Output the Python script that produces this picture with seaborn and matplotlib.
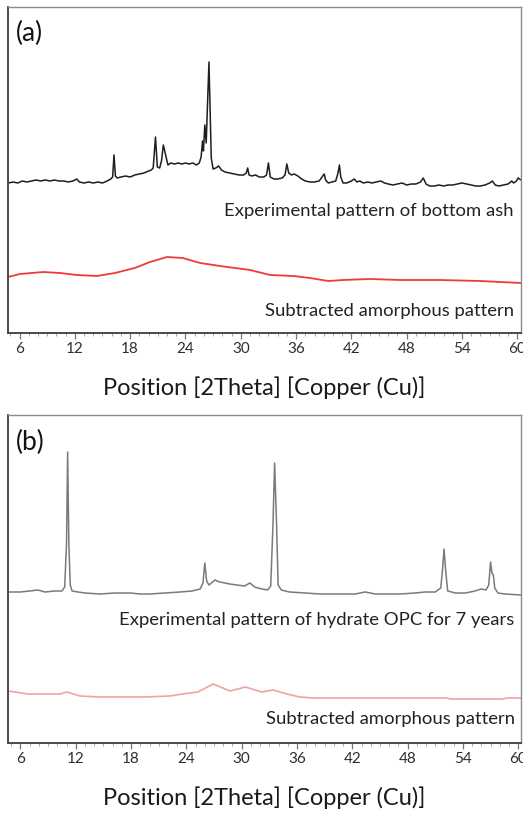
import matplotlib
matplotlib.use("Agg")
import matplotlib.pyplot as plt
from matplotlib.ticker import MultipleLocator
import pandas as pd
import seaborn as sns

# ---- (a) bottom ash: experimental trace (2theta in degrees, intensity a.u.)
ash_theta = [4.8, 5.3, 5.8, 6.3, 6.8, 7.3, 7.8, 8.3, 8.8, 9.3, 9.8, 10.3, 10.8, 11.3,
             11.8, 12.2, 12.5, 13.0, 13.5, 14.0, 14.5, 15.0, 15.5, 15.9, 16.1, 16.25,
             16.4, 16.6, 17.0, 17.5, 18.0, 18.5, 19.0, 19.5, 20.0, 20.3, 20.5, 20.75,
             20.95, 21.2, 21.4, 21.6, 21.85, 22.1, 22.4, 22.8, 23.2, 23.6, 24.0, 24.4,
             24.8, 25.2, 25.5, 25.7, 25.85, 25.95, 26.1, 26.25, 26.55, 26.8, 27.0, 27.3,
             27.6, 27.9, 28.3, 28.8, 29.3, 29.8, 30.3, 30.6, 30.75, 30.9, 31.2, 31.6,
             32.0, 32.5, 32.8, 33.0, 33.2, 33.6, 34.0, 34.5, 34.8, 35.0, 35.2, 35.5,
             35.8, 36.2, 36.6, 37.0, 37.5, 38.0, 38.5, 38.9, 39.05, 39.2, 39.5, 39.9,
             40.3, 40.55, 40.7, 40.85, 41.1, 41.5, 42.0, 42.3, 42.6, 42.9, 43.3, 43.8,
             44.2, 44.7, 45.2, 45.6, 46.0, 46.5, 47.0, 47.5, 48.0, 48.5, 49.0, 49.5,
             49.8, 50.1, 50.5, 51.0, 51.5, 52.0, 52.5, 53.0, 53.5, 54.0, 54.5, 55.0,
             55.5, 56.0, 56.5, 57.0, 57.3, 57.6, 58.0, 58.5, 59.0, 59.4, 59.6, 59.9,
             60.1, 60.4]
ash_counts = [150, 151, 150, 152, 151, 152, 153, 152, 153, 152, 153, 152, 152, 151,
              152, 154, 151, 150, 151, 150, 151, 150, 152, 154, 156, 178,
              157, 155, 156, 157, 156, 158, 159, 160, 162, 163, 165, 196,
              166, 165, 172, 188, 178, 168, 170, 169, 170, 169, 170, 169,
              170, 168, 170, 176, 192, 182, 208, 190, 271, 175, 164, 165,
              167, 163, 161, 160, 159, 158, 158, 160, 165, 158, 157, 158,
              156, 156, 158, 170, 156, 154, 154, 155, 158, 169, 160, 158,
              159, 157, 154, 152, 151, 151, 152, 157, 159, 153, 150, 151,
              152, 160, 168, 156, 150, 150, 152, 154, 151, 152, 150, 151,
              150, 151, 152, 150, 149, 148, 149, 150, 148, 149, 149, 151,
              155, 149, 147, 147, 148, 147, 148, 148, 149, 150, 149, 148,
              147, 147, 148, 150, 152, 148, 147, 148, 149, 152, 150, 152,
              155, 153]

# ---- (a) bottom ash: subtracted amorphous hump
ash_amorph_theta = [4.75, 6.05, 8.55, 10.4, 12.2, 14.4, 16.35, 18.5, 20.15, 22.0, 23.7,
                    25.6, 27.75, 31.0, 33.2, 35.7, 37.5, 39.5, 41.1, 44.0, 47.3, 51.6,
                    56.0, 60.4]
ash_amorph_counts = [56, 59, 61, 60, 58, 57, 60, 65, 71, 76, 75,
                     70, 67, 63, 58, 57, 55, 52, 53, 54, 53, 53,
                     52, 50]

# ---- (b) hydrated OPC (7 years): experimental trace
opc_theta = [4.65, 6.0, 7.0, 7.9, 8.65, 9.7, 10.5, 10.8, 11.0, 11.12, 11.25, 11.4,
             11.6, 12.25, 13.0, 14.6, 16.25, 17.9, 19.0, 20.0, 21.7, 23.3, 24.6,
             25.5, 25.8, 26.0, 26.2, 26.45, 27.1, 27.6, 28.2, 28.7, 29.5, 30.3,
             30.9, 31.4, 32.2, 32.8, 33.15, 33.4, 33.57, 33.78, 33.95, 34.3, 35.2,
             36.9, 38.5, 40.7, 42.3, 43.4, 44.5, 47.2, 48.8, 49.9, 51.0, 51.6,
             51.8, 51.95, 52.15, 52.35, 53.2, 54.3, 55.3, 56.0, 56.5, 56.8, 57.0,
             57.15, 57.3, 57.45, 57.8, 58.55, 60.3]
opc_counts = [151, 151, 152, 153, 151, 152, 152, 156, 200, 291, 200, 158,
              152, 151, 150, 149, 150, 150, 149, 149, 150, 151, 152,
              154, 160, 180, 162, 158, 163, 161, 160, 159, 158, 157,
              160, 156, 154, 153, 157, 220, 280, 220, 158, 153, 151,
              150, 149, 149, 149, 151, 149, 149, 150, 151, 151, 155,
              175, 194, 170, 152, 150, 150, 152, 154, 153, 158, 181,
              170, 168, 155, 150, 149, 148]

# ---- (b) hydrated OPC (7 years): subtracted amorphous pattern
opc_amorph_theta = [4.65, 5.4, 6.8, 10.3, 11.05, 12.45, 14.6, 19.5, 22.2, 23.6, 25.25,
                    26.9, 28.75, 30.4, 32.2, 33.4, 34.9, 36.3, 37.7, 47.2, 52.25,
                    52.6, 58.3, 58.8, 60.3]
opc_amorph_counts = [52, 51, 49, 49, 51, 47, 46, 46, 47, 49, 51,
                     59, 52, 56, 51, 53, 49, 46, 45, 45, 45,
                     44, 44, 45, 45]

major_ticks = [6, 12, 18, 24, 30, 36, 42, 48, 54, 60]
x_label = "Position [2Theta] [Copper (Cu)]"

panels = [
    dict(tag="(a)", tag_y=0.92,
         exp=(ash_theta, ash_counts), amo=(ash_amorph_theta, ash_amorph_counts),
         exp_color="#1e1e1e", amo_color="#f03a3a", exp_lw=1.1, amo_lw=1.3,
         exp_text="Experimental pattern of bottom ash", exp_text_y=122,
         amo_text="Subtracted amorphous pattern", amo_text_y=22,
         xlim=(4.75, 60.4), ylim=(0, 326), box=[8, 7, 521, 333]),
    dict(tag="(b)", tag_y=0.915,
         exp=(opc_theta, opc_counts), amo=(opc_amorph_theta, opc_amorph_counts),
         exp_color="#7a7a7a", amo_color="#f2a2a2", exp_lw=1.1, amo_lw=1.2,
         exp_text="Experimental pattern of hydrate OPC for 7 years", exp_text_y=123,
         amo_text="Subtracted amorphous pattern", amo_text_y=24,
         xlim=(4.65, 60.3), ylim=(0, 328), box=[8, 415, 521, 743]),
]

sns.set_style("white")
plt.rcParams["font.family"] = ["Lato", "DejaVu Sans"]

W, H = 523, 814
fig = plt.figure(figsize=(W / 100, H / 100), dpi=100)

for p in panels:
    x0, y0, x1, y1 = p["box"]
    ax = fig.add_axes([x0 / W, 1 - y1 / H, (x1 - x0) / W, (y1 - y0) / H])

    exp_df = pd.DataFrame({"theta": p["exp"][0], "counts": p["exp"][1]})
    amo_df = pd.DataFrame({"theta": p["amo"][0], "counts": p["amo"][1]})
    sns.lineplot(data=exp_df, x="theta", y="counts", ax=ax, color=p["exp_color"],
                 lw=p["exp_lw"], sort=False, estimator=None)
    sns.lineplot(data=amo_df, x="theta", y="counts", ax=ax, color=p["amo_color"],
                 lw=p["amo_lw"], sort=False, estimator=None)

    ax.set_xlim(*p["xlim"])
    ax.set_ylim(*p["ylim"])
    ax.set_yticks([])
    ax.set_ylabel("")
    ax.set_xticks(major_ticks)
    ax.set_xticklabels([str(t) for t in major_ticks])
    ax.xaxis.set_minor_locator(MultipleLocator(1))
    ax.tick_params(axis="x", which="major", direction="out", length=4, width=0.9,
                   color="#777777", labelsize=11, labelcolor="#2e2e2e", pad=2.5,
                   bottom=True)
    ax.tick_params(axis="x", which="minor", direction="out", length=2, width=0.6,
                   color="#999999", bottom=True)
    ax.set_xlabel(x_label, fontsize=17, color="#1a1a1a", labelpad=15)

    for side in ("left", "bottom"):
        ax.spines[side].set_color("#4a4a4a")
        ax.spines[side].set_linewidth(1.4)
    for side in ("top", "right"):
        ax.spines[side].set_color("#8a8a8a")
        ax.spines[side].set_linewidth(1.0)

    ax.text(0.015, p["tag_y"], p["tag"], transform=ax.transAxes, ha="left",
            va="center", fontsize=19, color="#111111")
    ax.text(59.6, p["exp_text_y"], p["exp_text"], ha="right", va="center",
            fontsize=13.3, color="#222222")
    ax.text(59.6, p["amo_text_y"], p["amo_text"], ha="right", va="center",
            fontsize=13.3, color="#222222")

fig.savefig("out.png", dpi=100)
